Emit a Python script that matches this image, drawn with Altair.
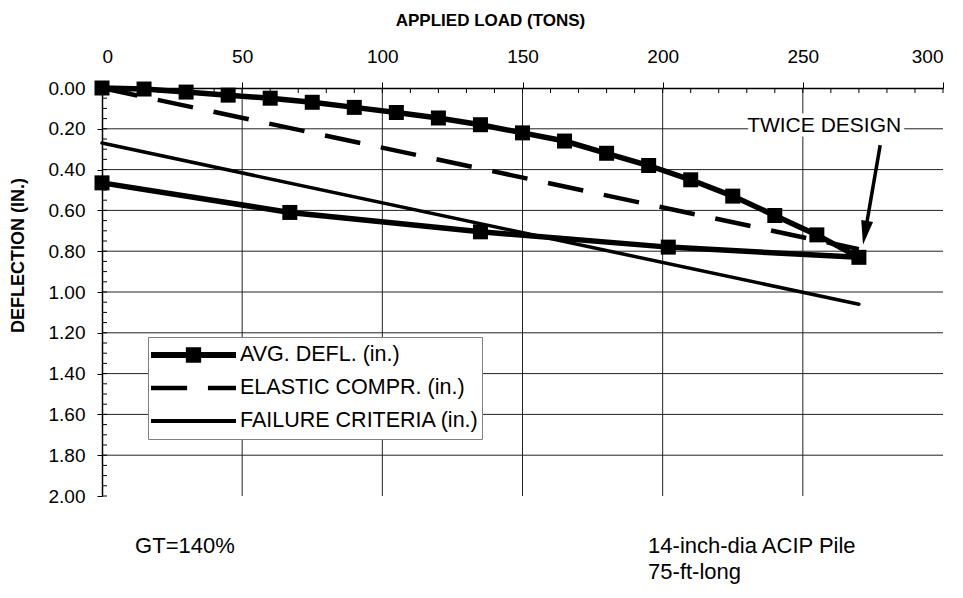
import altair as alt
import pandas as pd

# ---------------- data ----------------
series_names = ["AVG. DEFL. (in.)", "ELASTIC COMPR. (in.)", "FAILURE CRITERIA (in.)"]

avg_load = [0, 15, 30, 45, 60, 75, 90, 105, 120, 135, 150, 165, 180, 195, 210, 225, 240, 255, 270,
            202, 135, 67, 0]
avg_defl = [0.00, 0.005, 0.02, 0.035, 0.05, 0.07, 0.095, 0.12, 0.147, 0.18, 0.22, 0.26, 0.32, 0.38,
            0.45, 0.53, 0.625, 0.72, 0.83,
            0.78, 0.705, 0.61, 0.465]

elastic_load = [0, 270]
elastic_defl = [0.00, 0.79]

failure_load = [0, 270]
failure_defl = [0.27, 1.06]

x_ticks = [0, 50, 100, 150, 200, 250, 300]
y_ticks = [0.0, 0.2, 0.4, 0.6, 0.8, 1.0, 1.2, 1.4, 1.6, 1.8, 2.0]
x_minor = list(range(0, 301, 10))
y_minor = [round(i * 0.05, 2) for i in range(41)]
grid_x = [50, 100, 150, 200, 250]
grid_y = [0.2, 0.4, 0.6, 0.8, 1.0, 1.2, 1.4, 1.6, 1.8]

note_label = ["TWICE DESIGN"]
note_load = [257.6]
note_defl = [0.186]

arrow_load = [277.6]
arrow_defl = [0.28]
arrow_head_load = [272.2]
arrow_head_defl = [0.71]

foot_labels = ["GT=140%", "14-inch-dia ACIP Pile", "75-ft-long"]
foot_load = [11.8, 194.8, 194.8]
foot_defl = [2.245, 2.245, 2.372]

# legend symbols (filled SVG paths)
legend_paths = [
    "M-1,-0.07H1V0.07H-1Z M-0.18,-0.18H0.18V0.18H-0.18Z",
    "M-1,-0.055H-0.15V0.055H-1Z M0.34,-0.055H1V0.055H0.34Z",
    "M-1,-0.047H1V0.047H-1Z",
]

FONT = "Arial, Liberation Sans, sans-serif"

# ---------------- tables ----------------
rows = []
for i, (l, d) in enumerate(zip(avg_load, avg_defl)):
    rows.append({"series": series_names[0], "load": l, "defl": d, "idx": i})
for i, (l, d) in enumerate(zip(elastic_load, elastic_defl)):
    rows.append({"series": series_names[1], "load": l, "defl": d, "idx": i})
for i, (l, d) in enumerate(zip(failure_load, failure_defl)):
    rows.append({"series": series_names[2], "load": l, "defl": d, "idx": i})
df = pd.DataFrame(rows)

x_scale = alt.Scale(domain=[0, 300], nice=False, zero=False)
y_scale = alt.Scale(domain=[0, 2], nice=False, zero=False, reverse=True)

x_axis = alt.Axis(
    orient="top", values=x_ticks, grid=False, title="APPLIED LOAD (TONS)",
    labelFont=FONT, labelFontSize=19, labelColor="black", labelPadding=16,
    titleFont=FONT, titleFontSize=17, titleFontWeight="bold", titleColor="black",
    titleX=388, titleY=-68, titleBaseline="middle", titleAlign="center",
    domainColor="black", domainWidth=1.5, tickColor="black", tickSize=6, tickWidth=1,
)
y_axis = alt.Axis(
    orient="left", values=y_ticks, format=".2f", grid=False, title="DEFLECTION (IN.)",
    labelFont=FONT, labelFontSize=19, labelColor="black", labelPadding=12,
    titleFont=FONT, titleFontSize=18, titleFontWeight="bold", titleColor="black",
    titleX=-84, titleY=167, titleAngle=270, titleBaseline="middle", titleAlign="center",
    domainColor="black", domainWidth=1.5, tickColor="black", tickSize=5, tickWidth=1,
)

X = alt.X("load:Q", scale=x_scale, axis=x_axis)
Y = alt.Y("defl:Q", scale=y_scale, axis=y_axis)

# gridlines
gx = alt.Chart(pd.DataFrame({"load": grid_x})).mark_rule(color="#222", strokeWidth=1).encode(x=X)
gy = alt.Chart(pd.DataFrame({"defl": grid_y})).mark_rule(color="#222", strokeWidth=1).encode(y=Y)

# minor ticks (inside)
mx = alt.Chart(pd.DataFrame({"load": x_minor})).mark_rule(color="black", strokeWidth=1, y2Offset=5).encode(
    x=X, y=alt.datum(0), y2=alt.datum(0))
my = alt.Chart(pd.DataFrame({"defl": y_minor})).mark_rule(color="black", strokeWidth=1, x2Offset=5).encode(
    y=Y, x=alt.datum(0), x2=alt.datum(0))

# series
failure = alt.Chart(df).transform_filter(alt.datum.series == series_names[2]).mark_line(
    color="black", strokeWidth=3.5, strokeCap="round").encode(x=X, y=Y, order="idx:Q")
elastic = alt.Chart(df).transform_filter(alt.datum.series == series_names[1]).mark_line(
    color="black", strokeWidth=4.5, strokeDash=[36, 21]).encode(x=X, y=Y, order="idx:Q")
avg_line = alt.Chart(df).transform_filter(alt.datum.series == series_names[0]).mark_line(
    color="black", strokeWidth=5.5).encode(x=X, y=Y, order="idx:Q")
avg_pts = alt.Chart(df).transform_filter(alt.datum.series == series_names[0]).mark_point(
    shape="square", filled=True, color="black", size=225, opacity=1, strokeWidth=0).encode(x=X, y=Y)

# legend carrier (invisible marks)
legend_layer = alt.Chart(df).mark_point(filled=True, color="black", opacity=0, strokeWidth=0).encode(
    x=X, y=Y,
    shape=alt.Shape("series:N", scale=alt.Scale(domain=series_names, range=legend_paths),
                    legend=alt.Legend(
                        orient="none", legendX=46, legendY=249, title=None,
                        labelFont=FONT, labelFontSize=21.5, labelColor="black", labelLimit=500,
                        labelOffset=4, symbolSize=7225, symbolFillColor="black",
                        symbolStrokeWidth=0, symbolOpacity=1, clipHeight=30, rowPadding=3,
                        padding=3, strokeColor="#808080", fillColor="white",
                    )),
)

# annotation
note_df = pd.DataFrame({"label": note_label, "load": note_load, "defl": note_defl})
note_halo = alt.Chart(note_df).mark_text(font=FONT, fontSize=21, color="white", stroke="white",
                                         strokeWidth=9, align="center", baseline="middle").encode(
    x=X, y=Y, text="label:N")
note = alt.Chart(note_df).mark_text(font=FONT, fontSize=21, color="black", align="center",
                                    baseline="middle").encode(x=X, y=Y, text="label:N")

arrow_df = pd.DataFrame({"load": arrow_load, "defl": arrow_defl,
                         "load2": arrow_head_load, "defl2": arrow_head_defl})
arrow = alt.Chart(arrow_df).mark_rule(color="black", strokeWidth=3.5).encode(
    x=X, y=Y, x2="load2:Q", y2="defl2:Q")
head_df = pd.DataFrame({"load": arrow_head_load, "defl": arrow_head_defl})
head = alt.Chart(head_df).mark_point(shape="M-0.5,-1L0.5,-1L0,1Z", filled=True, color="black",
                                     size=576, angle=10, opacity=1, strokeWidth=0).encode(x=X, y=Y)

foot_df = pd.DataFrame({"label": foot_labels, "load": foot_load, "defl": foot_defl})
foot = alt.Chart(foot_df).mark_text(font=FONT, fontSize=22, color="black", align="left",
                                    baseline="middle").encode(x=X, y=Y, text="label:N")

chart = alt.layer(
    gx, gy, mx, my, failure, elastic, avg_line, avg_pts, legend_layer,
    note_halo, note, arrow, head, foot,
).properties(
    width=841, height=408,
    padding={"left": 94, "top": 80, "right": 12, "bottom": 90},
    autosize=alt.AutoSizeParams(type="none"),
    background="white",
).configure_view(strokeWidth=0)

chart.save("out.html", embed_options={"renderer": "svg", "actions": False})
